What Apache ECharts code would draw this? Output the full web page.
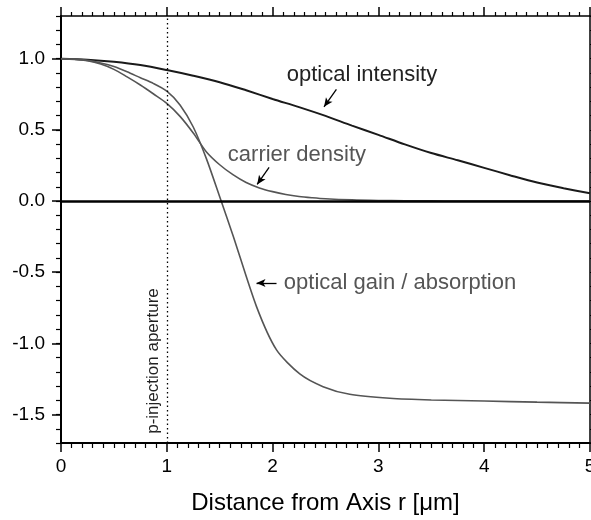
<!DOCTYPE html>
<html>
<head>
<meta charset="utf-8">
<script src="https://cdn.jsdelivr.net/npm/echarts@6/dist/echarts.min.js"></script>
<style>
html,body{margin:0;padding:0;background:#fff;}
#c{width:591px;height:520px;}
</style>
</head>
<body>
<div id="c"></div>
<script>
// ---- data ----
const rIntensity = [0, 0.25, 0.5, 0.75, 1.0, 1.25, 1.5, 1.75, 2.0, 2.25, 2.5, 2.75, 3.0, 3.25, 3.5, 3.75, 4.0, 4.25, 4.5, 4.75, 5.0];
const intensity  = [1.0, 0.993, 0.978, 0.955, 0.92, 0.88, 0.835, 0.778, 0.717, 0.66, 0.598, 0.53, 0.465, 0.398, 0.337, 0.286, 0.233, 0.18, 0.13, 0.09, 0.054];

const rCarrier = [0, 0.125, 0.25, 0.375, 0.5, 0.625, 0.75, 0.875, 1.0, 1.125, 1.25, 1.375, 1.5, 1.625, 1.75, 1.875, 2.0, 2.125, 2.25, 2.375, 2.5, 2.75, 3.0, 3.25, 3.5, 3.75, 4.0, 4.5, 5.0];
const carrier  = [1.0, 0.996, 0.985, 0.962, 0.925, 0.872, 0.815, 0.752, 0.686, 0.595, 0.478, 0.345, 0.255, 0.185, 0.13, 0.092, 0.066, 0.046, 0.032, 0.023, 0.016, 0.008, 0.004, 0.002, 0.001, 0.0, 0.0, 0.0, 0.0];

const rGain = [0, 0.125, 0.25, 0.375, 0.5, 0.625, 0.75, 0.875, 1.0, 1.125, 1.25, 1.375, 1.5, 1.625, 1.848, 2.037, 2.257, 2.477, 2.729, 3.107, 3.5, 4.0, 4.5, 5.0];
const gain  = [1.0, 0.997, 0.988, 0.97, 0.945, 0.908, 0.866, 0.825, 0.772, 0.675, 0.52, 0.296, 0.03, -0.24, -0.742, -1.046, -1.215, -1.304, -1.358, -1.386, -1.398, -1.405, -1.413, -1.42];

const xTicks = [0, 1, 2, 3, 4, 5];
const yTickValues = [-1.5, -1.0, -0.5, 0.0, 0.5, 1.0];
const yTickLabels = ['-1.5', '-1.0', '-0.5', '0.0', '0.5', '1.0'];

const apertureR = 1.0;

const arrows = [
  [[2.603, 0.784], [2.486, 0.662]],
  [[1.967, 0.237], [1.854, 0.117]],
  [[2.037, -0.576], [1.848, -0.576]]
];
const labels = [
  {text: 'optical intensity', at: [2.134, 0.885], color: '#222', size: 22, rot: 0, align: 'left'},
  {text: 'carrier density', at: [1.577, 0.323], color: '#555', size: 22, rot: 0, align: 'left'},
  {text: 'optical gain / absorption', at: [2.106, -0.576], color: '#555', size: 22, rot: 0, align: 'left'},
  {text: 'p-injection aperture', at: [0.869, -1.124], color: '#222', size: 17, rot: Math.PI / 2, align: 'center'}
];

const FONT = '"Liberation Sans", Arial, Helvetica, sans-serif';
const zip = (a, b) => a.map((v, i) => [v, b[i]]);

const chart = echarts.init(document.getElementById('c'), null, {renderer: 'canvas'});

const axisLineStyle = w => ({show: true, onZero: false, lineStyle: {color: '#000', width: w}});

chart.setOption({
  animation: false,
  backgroundColor: '#fff',
  grid: {left: 61, right: 1, top: 16, bottom: 77, containLabel: false, outerBoundsMode: 'none'},
  xAxis: [
    {
      type: 'value', position: 'bottom', min: 0, max: 5, interval: 1,
      axisLine: axisLineStyle(2),
      axisTick: {show: true, inside: false, length: 9, lineStyle: {color: '#000', width: 1.5}},
      minorTick: {show: true, splitNumber: 10, length: 5, lineStyle: {color: '#000', width: 1.2}},
      axisLabel: {show: true, fontSize: 19, fontFamily: FONT, color: '#000', margin: 14,
        formatter: v => String(xTicks.find(t => Math.abs(t - v) < 1e-9) ?? v)},
      splitLine: {show: false},
      name: 'Distance from Axis r [\u03bcm]', nameLocation: 'middle', nameGap: 48,
      nameTextStyle: {fontSize: 24, fontFamily: FONT, color: '#000'}
    },
    {
      type: 'value', position: 'top', min: 0, max: 5, interval: 1,
      axisLine: axisLineStyle(1.5),
      axisTick: {show: true, inside: false, length: 9, lineStyle: {color: '#000', width: 1.5}},
      minorTick: {show: true, splitNumber: 10, length: 4, lineStyle: {color: '#000', width: 1.2}},
      axisLabel: {show: false}, splitLine: {show: false}
    }
  ],
  yAxis: [
    {
      type: 'value', position: 'left', min: -1.7, max: 1.3,
      axisLine: axisLineStyle(2),
      axisTick: {show: true, inside: false, length: 9, customValues: yTickValues, lineStyle: {color: '#000', width: 1.5}},
      axisLabel: {show: true, customValues: yTickValues, fontSize: 19, fontFamily: FONT, color: '#000', margin: 16,
        formatter: v => {
          const i = yTickValues.findIndex(t => Math.abs(t - v) < 1e-9);
          return i >= 0 ? yTickLabels[i] : '';
        }},
      splitLine: {show: false}
    },
    {
      type: 'value', position: 'left', min: -1.7, max: 1.3, interval: 0.1,
      axisLine: {show: false},
      axisTick: {show: true, inside: false, length: 5, lineStyle: {color: '#000', width: 1.2}},
      axisLabel: {show: false}, splitLine: {show: false}
    },
    {
      type: 'value', position: 'right', min: -1.7, max: 1.3, interval: 0.1,
      axisLine: axisLineStyle(1.5),
      axisTick: {show: true, inside: false, length: 4, lineStyle: {color: '#000', width: 1}},
      axisLabel: {show: false}, splitLine: {show: false}
    }
  ],
  series: [
    {
      name: 'optical intensity', type: 'line', xAxisIndex: 0, yAxisIndex: 0,
      data: zip(rIntensity, intensity), smooth: 0.3, showSymbol: false,
      lineStyle: {color: '#1a1a1a', width: 2}, z: 3
    },
    {
      name: 'carrier density', type: 'line', xAxisIndex: 0, yAxisIndex: 0,
      data: zip(rCarrier, carrier), smooth: 0.3, showSymbol: false,
      lineStyle: {color: '#555', width: 1.6}, z: 3
    },
    {
      name: 'optical gain / absorption', type: 'line', xAxisIndex: 0, yAxisIndex: 0,
      data: zip(rGain, gain), smooth: 0.25, showSymbol: false,
      lineStyle: {color: '#555', width: 1.6}, z: 3
    },
    {
      name: 'guides', type: 'line', xAxisIndex: 0, yAxisIndex: 0, data: [], z: 4,
      markLine: {
        silent: true, animation: false, symbol: ['none', 'none'],
        label: {show: false},
        data: [
          {yAxis: 0, lineStyle: {color: '#000', width: 2.5, type: 'solid'}},
          {xAxis: apertureR, lineStyle: {color: '#000', width: 1.3, type: [1.5, 3]}}
        ]
      }
    },
    {
      name: 'arrows', type: 'line', xAxisIndex: 0, yAxisIndex: 0, data: [], z: 4,
      markLine: {
        silent: true, animation: false, symbol: ['none', 'arrow'], symbolSize: [6, 9],
        label: {show: false},
        lineStyle: {color: '#000', width: 1.3, type: 'solid'},
        data: arrows.map(a => [{coord: a[0]}, {coord: a[1]}])
      }
    }
  ]
});

const gfx = labels.map(l => {
  const p = chart.convertToPixel({xAxisIndex: 0, yAxisIndex: 0}, l.at);
  return {
    type: 'text', x: p[0], y: p[1], rotation: l.rot,
    style: {text: l.text, fill: l.color, font: l.size + 'px ' + FONT,
      textAlign: l.align, textVerticalAlign: 'middle'},
    z: 10
  };
});
chart.setOption({graphic: gfx});
</script>
</body>
</html>
